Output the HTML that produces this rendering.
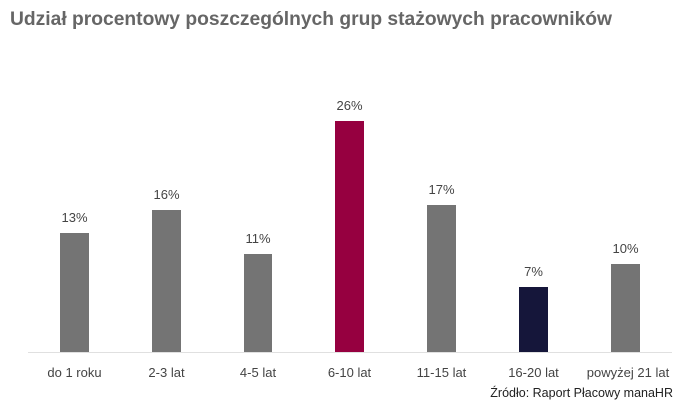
<!DOCTYPE html>
<html><head><meta charset="utf-8"><style>
body{margin:0;background:#fff}
svg text{font-family:"Liberation Sans",sans-serif}
</style></head><body>
<svg width="697" height="409" xmlns="http://www.w3.org/2000/svg">
<text x="10" y="25" font-size="19" font-weight="bold" fill="#666" textLength="602" lengthAdjust="spacingAndGlyphs">Udział procentowy poszczególnych grup stażowych pracowników</text>
<line x1="28" y1="352.5" x2="672" y2="352.5" stroke="#e0e0e0" stroke-width="1"/>
<g>
<rect x="60" y="233" width="29" height="119" fill="#747474"/>
<rect x="152" y="210" width="29" height="142" fill="#747474"/>
<rect x="244" y="254" width="28" height="98" fill="#747474"/>
<rect x="335" y="121" width="29" height="231" fill="#960040"/>
<rect x="427" y="205" width="29" height="147" fill="#747474"/>
<rect x="519" y="287" width="29" height="65" fill="#15163a"/>
<rect x="611" y="264" width="29" height="88" fill="#747474"/>
</g>
<g font-size="13" fill="#444" text-anchor="middle">
<text x="74.5" y="222">13%</text>
<text x="166.5" y="199">16%</text>
<text x="258" y="243">11%</text>
<text x="349.5" y="110">26%</text>
<text x="441.5" y="194">17%</text>
<text x="533.5" y="276">7%</text>
<text x="625.5" y="253">10%</text>
</g>
<g font-size="13" fill="#444" text-anchor="middle">
<text x="74.5" y="377">do 1 roku</text>
<text x="166.5" y="377">2-3 lat</text>
<text x="258" y="377">4-5 lat</text>
<text x="349.5" y="377">6-10  lat</text>
<text x="441.5" y="377">11-15 lat</text>
<text x="533.5" y="377">16-20 lat</text>
<text x="628" y="377">powyżej 21 lat</text>
</g>
<text x="673" y="397" font-size="12.5" fill="#222" text-anchor="end">Źródło: Raport Płacowy manaHR</text>
</svg>
</body></html>
